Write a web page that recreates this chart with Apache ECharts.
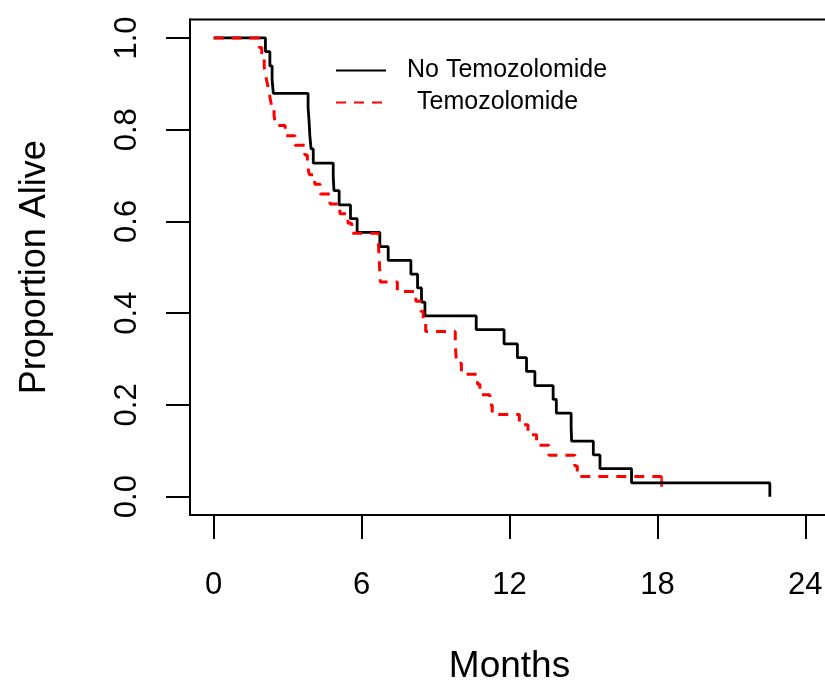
<!DOCTYPE html>
<html>
<head>
<meta charset="utf-8">
<script src="https://cdn.jsdelivr.net/npm/echarts@6/dist/echarts.min.js"></script>
<style>html,body{margin:0;padding:0;background:#fff;overflow:hidden}#c{width:829px;height:690px}</style>
</head>
<body>
<div id="c"></div>
<script>
// ---- data ----
const xTicks = [0, 6, 12, 18, 24];
const yTicks = [0, 0.2, 0.4, 0.6, 0.8, 1.0];

const noTmzName = 'No Temozolomide';
const noTmzTimes = [0, 2.10, 2.28, 2.37, 2.42, 3.83, 3.87, 3.90, 3.95, 4.04, 4.85, 4.88, 5.09, 5.55, 5.82, 6.74, 7.08, 8.00, 8.27, 8.43, 8.57, 10.65, 11.78, 12.32, 12.69, 13.03, 13.77, 13.90, 14.50, 14.52, 15.40, 15.67, 16.95, 22.56];
const noTmzSurv  = [1, 0.970, 0.939, 0.909, 0.879, 0.848, 0.818, 0.788, 0.758, 0.727, 0.697, 0.667, 0.636, 0.606, 0.576, 0.545, 0.515, 0.485, 0.455, 0.424, 0.394, 0.364, 0.333, 0.303, 0.273, 0.242, 0.212, 0.182, 0.152, 0.121, 0.091, 0.061, 0.030, 0];

const tmzName = 'Temozolomide';
const tmzTimes = [0, 1.85, 1.95, 2.05, 2.12, 2.20, 2.28, 2.35, 2.45, 2.52, 2.90, 3.30, 3.70, 3.80, 3.88, 4.10, 4.32, 4.72, 5.12, 5.45, 5.60, 6.68, 6.70, 6.72, 6.74, 6.76, 7.45, 8.20, 8.40, 8.50, 8.60, 9.80, 9.82, 9.85, 10.05, 10.70, 10.80, 11.20, 11.30, 12.40, 12.75, 13.10, 13.60, 14.65, 14.75];
const tmzSurv  = [1, 0.979, 0.957, 0.936, 0.915, 0.894, 0.872, 0.851, 0.830, 0.809, 0.787, 0.766, 0.745, 0.723, 0.702, 0.681, 0.660, 0.638, 0.617, 0.596, 0.574, 0.553, 0.532, 0.511, 0.489, 0.468, 0.447, 0.426, 0.404, 0.383, 0.360, 0.337, 0.314, 0.291, 0.267, 0.245, 0.222, 0.200, 0.179, 0.157, 0.135, 0.112, 0.090, 0.067, 0.044];
const tmzCensorTimes = [18.17];

// ---- build ----
const FONT = 'Liberation Sans';
const noTmzData = noTmzTimes.map((t, i) => [t, noTmzSurv[i]]);
const tmzLast = tmzSurv[tmzSurv.length - 1];
const tmzData = tmzTimes.map((t, i) => [t, tmzSurv[i]]).concat(tmzCensorTimes.map(t => [t, tmzLast]));
const censorData = tmzCensorTimes.map(t => [t, tmzLast]);

const chart = echarts.init(document.getElementById('c'), null, {renderer: 'canvas'});
chart.setOption({
  animation: false,
  backgroundColor: '#fff',
  grid: {left: 190, top: 19.6, right: 0, bottom: 174.6, show: true, borderColor: '#000', borderWidth: 2, backgroundColor: 'transparent'},
  xAxis: {
    type: 'value', min: -0.96, max: 24.96,
    splitLine: {show: false},
    axisLine: {show: true, onZero: false, lineStyle: {color: '#000', width: 2}},
    axisTick: {show: true, inside: false, customValues: xTicks, length: 24, lineStyle: {color: '#000', width: 2}},
    axisLabel: {customValues: xTicks, margin: 55, fontSize: 31, color: '#000', fontFamily: FONT},
    name: 'Months', nameLocation: 'middle', nameGap: 133,
    nameTextStyle: {fontSize: 37, color: '#000', fontFamily: FONT}
  },
  yAxis: {
    type: 'value', min: -0.04, max: 1.04,
    splitLine: {show: false},
    axisLine: {show: true, onZero: false, lineStyle: {color: '#000', width: 2}},
    axisTick: {show: true, inside: false, customValues: yTicks, length: 24, lineStyle: {color: '#000', width: 2}},
    axisLabel: {customValues: yTicks, margin: 47, rotate: 90, fontSize: 31, color: '#000', fontFamily: FONT,
      formatter: v => Number(v).toFixed(1)},
    name: 'Proportion Alive', nameLocation: 'middle', nameGap: 137, nameRotate: 90,
    nameTextStyle: {fontSize: 36, color: '#000', fontFamily: FONT}
  },
  legend: {
    orient: 'vertical', left: 335, top: 58, padding: 0, itemWidth: 50, itemHeight: 14, itemGap: 7,
    itemStyle: {opacity: 0},
    textStyle: {fontSize: 25, color: '#000', fontFamily: FONT, padding: [0, 0, 0, 16]},
    data: [{name: noTmzName}, {name: tmzName, textStyle: {padding: [0, 0, 0, 26]}}]
  },
  series: [
    {name: noTmzName, type: 'line', step: 'end', data: noTmzData, symbol: 'none', showSymbol: false,
      lineStyle: {color: '#000', width: 2.8}, itemStyle: {color: '#000'}, silent: true},
    {name: tmzName, type: 'line', step: 'end', data: tmzData, symbol: 'none', showSymbol: false,
      lineStyle: {color: '#ff0000', width: 3, type: [10, 8]}, itemStyle: {color: '#ff0000'}, silent: true},
    {type: 'scatter', data: censorData, symbol: 'rect', symbolSize: [3, 11], symbolOffset: [0, 5],
      itemStyle: {color: '#ff0000'}, silent: true}
  ]
});
</script>
</body>
</html>
